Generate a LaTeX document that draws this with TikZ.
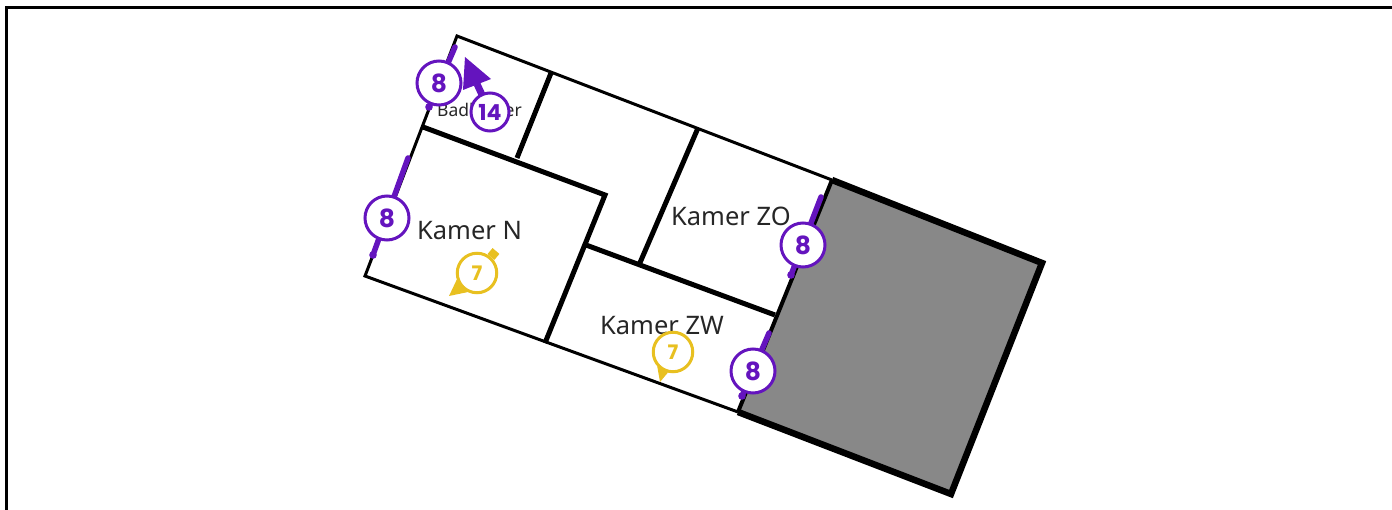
\documentclass[tikz,border=0pt]{standalone}
\usepackage{fontspec}
\setmainfont{Noto Sans}
\newfontfamily\badgefont{Poppins}[BoldFont={Poppins Bold}]
\definecolor{doorpurple}{HTML}{6414BE}
\definecolor{pinyellow}{HTML}{E8C020}
\definecolor{stairgrey}{HTML}{888888}
\tikzstyle{wall} = [draw=black, line width=5pt]
\tikzstyle{outerwall} = [draw=black, line width=3pt, line join=miter]
\tikzstyle{roomlabel} = [inner sep=0pt, text=black!85, font=\fontsize{25.5}{25.5}\selectfont]
\tikzstyle{door} = [draw=doorpurple, line width=5.5pt, line cap=round]
\tikzstyle{badge} = [circle, draw=doorpurple, fill=white, line width=3pt, minimum size=44pt, inner sep=0pt, text=doorpurple, font=\badgefont\bfseries\fontsize{25}{25}\selectfont]
\tikzstyle{pin} = [circle, draw=pinyellow, fill=white, line width=3pt, minimum size=39.5pt, inner sep=0pt, text=pinyellow, font=\badgefont\bfseries\fontsize{20}{20}\selectfont]
\begin{document}
\begin{tikzpicture}[x=1pt, y=-1pt]
\useasboundingbox (0,0) rectangle (1392,510);

% Frame
\coordinate (frameb) at (6.5,512);
\coordinate (framec) at (6.5,7.5);
\coordinate (framer) at (1394,7.5);
\draw [line width=3pt] (frameb) -- (framec) -- (framer);

% Plan corners
\coordinate (nw) at (457,36);
\coordinate (sw) at (365,276);
\coordinate (ne) at (832,180);
\coordinate (se) at (738,412);
\coordinate (gne) at (1042,263);
\coordinate (gse) at (951,494);

% Stair block
\fill [stairgrey] (ne) -- (gne) -- (gse) -- (se) -- cycle;
\draw [line width=6.5pt, line join=miter] (se) -- (gse) -- (gne) -- (ne);
\draw [line width=4pt] (ne) -- (se);

% Outer walls
\draw [outerwall] (ne) -- (nw) -- (sw) -- (se);

% Inner walls
\coordinate (bathw) at (423,127);
\coordinate (roomc) at (605,195);
\coordinate (rooms) at (545,343);
\coordinate (halle) at (775,315);
\coordinate (hallw) at (586,245);
\coordinate (batht) at (551,73);
\coordinate (bathb) at (517,158);
\coordinate (zot) at (698,128);
\coordinate (zob) at (639,265);
\draw [wall] (bathw) -- (roomc) -- (rooms);
\draw [wall] (hallw) -- (halle);
\draw [wall] (batht) -- (bathb);
\draw [wall] (zot) -- (zob);

% Room labels
\node (bath) [roomlabel, font=\fontsize{17.5}{17.5}\selectfont] at (479.5,110) {Badkamer};
\node (kamern) [roomlabel] at (469.5,231) {Kamer N};
\node (kamerzo) [roomlabel] at (731,216) {Kamer ZO};
\node (kamerzw) [roomlabel] at (662,326) {Kamer ZW};

% Doors
\coordinate (da) at (455,47);
\coordinate (db) at (429,107);
\coordinate (dc) at (408,158);
\coordinate (dd) at (373,255);
\coordinate (de) at (821,197);
\coordinate (df) at (791,275);
\coordinate (dg) at (769,333);
\coordinate (dh) at (742,396);
\foreach \from/\to in {da/db, dc/dd, de/df, dg/dh} {
  \draw [door] (\from) -- (\to);
  \fill [doorpurple] (\to) circle (3.8);
}
\node (bada) [badge] at (439,83) {8};
\node (badb) [badge] at (387,218) {8};
\node (badc) [badge] at (803,245) {8};
\node (badd) [badge] at (753,371) {8};

% Viewpoint arrow
\coordinate (tip) at (465,57);
\coordinate (wingr) at (491,79);
\coordinate (wingl) at (463,90);
\coordinate (wingm) at (477,84);
\fill [doorpurple] (tip) -- (wingr) -- (wingl) -- cycle;
\draw [doorpurple, line width=7pt] (wingm) -- (490,112);
\node (view) [badge, minimum size=38pt, font=\badgefont\bfseries\fontsize{22}{22}\selectfont] at (490,112) {14};

% Yellow pins
\coordinate (pintipa) at (449,296);
\coordinate (stub) at (496,251);
\coordinate (pintipb) at (660,382);
\node (pina) [pin] at (477,273) {7};
\node (pinb) [pin] at (673,352) {7};
\fill [pinyellow] (pintipa) -- (pina.198) -- (pina.244) -- cycle;
\fill [pinyellow] (pintipb) -- (pinb.222) -- (pinb.256) -- cycle;
\draw [pinyellow, line width=9pt] (pina.49) -- (stub);

\end{tikzpicture}
\end{document}
